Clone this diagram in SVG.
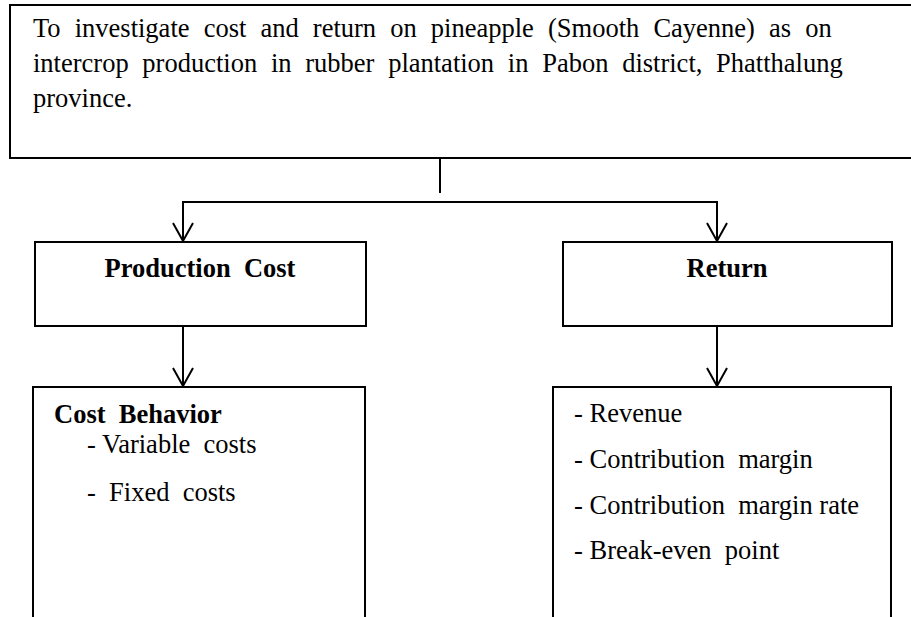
<svg xmlns="http://www.w3.org/2000/svg" width="911" height="617" viewBox="0 0 911 617">
<style>
.box{fill:#fff;stroke:#000;stroke-width:2}
.t{font-family:'Liberation Serif','Times New Roman','DejaVu Serif',serif;font-size:26.5px;fill:#000}
.b{font-weight:bold}
.c{fill:none;stroke:#000;stroke-width:2}
</style>
<defs>
<marker id="arr" markerUnits="userSpaceOnUse" markerWidth="22" markerHeight="24" refX="19" refY="11" orient="auto-start-reverse" viewBox="0 0 22 24">
<path d="M1,1 L19,11 L1,21" fill="none" stroke="#000" stroke-width="2"/>
</marker>
</defs>
<rect width="911" height="617" fill="#fff"/>
<g id="objective">
<rect class="box" x="10" y="5" width="920" height="153"/>
<text class="t" x="33" y="37" style="word-spacing:7.5px">To investigate cost and return on pineapple (Smooth Cayenne) as on</text>
<text class="t" x="33" y="72" style="word-spacing:7.1px">intercrop production in rubber plantation in Pabon district, Phatthalung</text>
<text class="t" x="33" y="107">province.</text>
</g>
<g id="production-cost">
<rect class="box" x="35" y="242" width="331" height="84"/>
<text class="t b" x="200" y="277" text-anchor="middle" xml:space="preserve">Production  Cost</text>
</g>
<g id="return">
<rect class="box" x="563" y="242" width="329" height="84"/>
<text class="t b" x="727" y="277" text-anchor="middle">Return</text>
</g>
<g id="cost-behavior">
<rect class="box" x="33" y="387" width="332" height="260"/>
<text class="t b" x="54" y="423" xml:space="preserve">Cost  Behavior</text>
<text class="t" x="87" y="453" xml:space="preserve">- Variable  costs</text>
<text class="t" x="87" y="501" xml:space="preserve">-  Fixed  costs</text>
</g>
<g id="return-items">
<rect class="box" x="553" y="387" width="338" height="260"/>
<text class="t" x="574" y="422">- Revenue</text>
<text class="t" x="574" y="468" xml:space="preserve">- Contribution  margin</text>
<text class="t" x="574" y="514" xml:space="preserve">- Contribution  margin rate</text>
<text class="t" x="574" y="559" xml:space="preserve">- Break-even  point</text>
</g>
<g id="connectors">
<line class="c" x1="440" y1="158" x2="440" y2="193"/>
<path class="c" d="M183,241 L183,202 L717,202 L717,241" marker-start="url(#arr)" marker-end="url(#arr)"/>
<line class="c" x1="183" y1="326" x2="183" y2="386" marker-end="url(#arr)"/>
<line class="c" x1="717" y1="326" x2="717" y2="386" marker-end="url(#arr)"/>
</g>
</svg>
